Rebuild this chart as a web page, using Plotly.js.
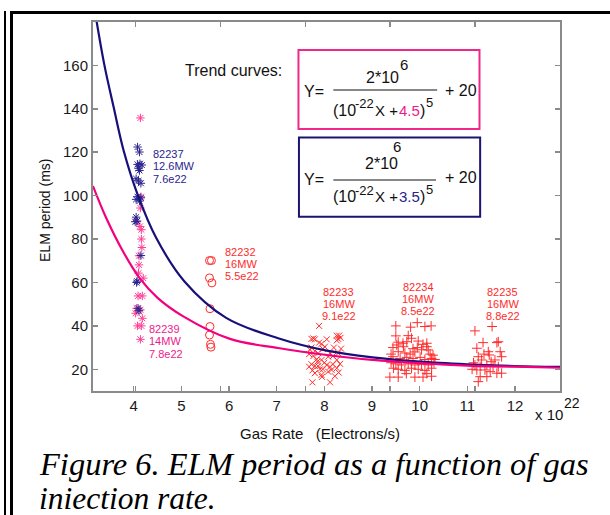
<!DOCTYPE html>
<html><head><meta charset="utf-8">
<script src="https://cdn.plot.ly/plotly-3.0.1.min.js"></script>
<style>
body{margin:0;background:#fff;width:610px;height:515px;overflow:hidden}
#chart{position:absolute;left:0;top:0;width:610px;height:515px}
.f{position:absolute;background:#000;z-index:5;pointer-events:none}
</style>
</head><body>
<div id="chart"></div>
<div class="f" style="left:4px;top:11px;width:2px;height:504px"></div>
<div class="f" style="left:10px;top:11px;width:3px;height:504px"></div>
<div class="f" style="left:10px;top:11px;width:600px;height:3px"></div>
<script>
// ---- axis ticks ----
const xTicks = [4,5,6,7,8,9,10,11,12];
const yTicks = [20,40,60,80,100,120,140,160];
const ghostTicks = [1,2,3,4,5];

// ---- trend curves ----
const curveBlueX = [3.20,3.38,3.58,3.79,4.08,4.47,5.06,5.94,7.03,8.05,9.01,10.0,11.0,12.0,12.945];
const curveBlueY = [183,160.6,140.6,120.6,100.6,80.6,60.6,43.7,34.3,28.6,25.5,23.5,22.3,21.5,21.1];
const curvePinkX = [3.145,3.42,3.77,4.12,4.50,5.03,6.02,7.03,8.05,9.01,10.0,11.0,12.0,12.945];
const curvePinkY = [104.4,89.8,74.5,62.1,52.9,44.5,34.0,29.8,26.6,24.3,22.8,21.7,21.2,20.7];

// ---- shot 82237 (blue asterisks) ----
const s82237X = [4.08,4.12,4.08,4.13,4.17,4.10,4.12,4.05,4.10,4.15,4.08,4.05,4.15,4.12,4.05,4.07,4.03,4.15,4.07,4.06,4.09,4.11];
const s82237Y = [122.4,120.1,114.4,114.7,114.1,112.6,111.6,107.8,106.8,105.7,99.5,98.3,99.0,97.5,90.1,88.3,88.0,72.4,60.6,60.0,48.1,47.0];
// ---- shot 82239 (pink asterisks) ----
const s82239X = [4.14,4.15,4.14,4.06,4.13,4.16,4.16,4.17,4.11,4.11,4.10,4.20,4.09,4.18,4.06,4.14,4.04,4.18,4.08,4.16,4.14];
const s82239Y = [135.8,99.5,94.3,88.1,85.8,84.3,80.0,76.1,72.3,68.1,64.3,62.0,53.8,53.8,48.1,47.4,45.8,43.5,40.0,40.0,33.8];
// ---- shot 82232 (circles) ----
const s82232X = [5.59,5.63,5.59,5.64,5.60,5.60,5.59,5.61,5.62];
const s82232Y = [70.1,70.1,62.1,59.8,47.9,39.7,35.8,31.5,30.2];
// ---- shot 82233 (x) ----
const s82233X = [7.89,7.73,7.77,7.80,8.05,8.26,8.31,8.29,8.34,8.26,7.89,7.94,8.01,7.97,7.73,7.80,7.87,7.77,7.84,7.94,8.08,8.12,8.18,8.29,8.26,7.70,8.20,8.35,7.68,7.73,7.80,7.87,7.91,7.97,8.05,8.12,8.18,8.26,7.80,7.94,8.08,8.15,7.68,8.33,8.30,7.75,8.00,7.85,7.75,8.12,7.95,8.22];
const s82233Y = [40.0,34.0,34.2,33.8,33.8,35.5,35.5,34.0,34.5,33.3,32.3,31.7,30.4,29.4,30.0,28.4,27.4,26.1,24.6,24.3,25.8,27.4,26.1,27.4,24.3,29.0,30.0,29.5,27.0,22.3,21.5,21.5,20.0,20.0,22.0,21.2,22.3,20.5,18.2,17.4,18.9,19.7,21.2,22.5,18.5,19.5,23.0,23.5,14.0,14.0,16.5,16.8];
// ---- shot 82234 (+) ----
const s82234X = [9.50,9.81,9.95,10.11,10.24,9.50,9.76,9.83,9.55,9.65,9.73,9.97,10.07,10.15,9.44,9.52,9.66,9.86,10.15,10.18,10.04,9.95,9.55,9.69,9.80,9.90,10.22,10.28,9.40,9.44,9.59,9.73,9.86,10.01,10.11,10.25,10.32,9.40,9.50,9.62,9.76,9.90,10.04,10.18,10.30,9.45,9.55,9.69,9.83,9.97,10.11,10.25,9.375,9.55,9.90,10.07,10.25,9.72,10.15];
const s82234Y = [40.0,39.4,41.5,39.7,40.0,35.4,35.5,34.3,32.5,32.0,32.7,33.0,31.5,32.0,30.0,31.2,30.4,29.5,30.4,28.9,29.0,30.0,28.1,27.5,27.0,28.0,27.0,26.5,27.0,25.8,25.0,25.5,25.0,25.5,24.5,25.0,24.5,23.0,22.5,22.0,22.5,22.0,22.3,22.0,23.0,20.5,20.0,19.5,20.5,20.0,19.5,20.5,16.4,16.4,16.4,16.4,16.8,18.0,18.0];
// ---- shot 82235 (+) ----
const s82235X = [11.16,11.52,11.33,11.62,11.65,11.20,11.44,11.46,11.69,11.23,11.30,11.58,11.72,11.16,11.27,11.41,11.54,11.65,11.20,11.37,11.48,11.62,11.72,11.27,11.41,11.23,11.13,11.35,11.50,11.10];
const s82235Y = [37.7,39.7,32.3,32.3,32.7,29.7,28.1,26.6,28.1,25.8,24.3,24.3,25.8,22.0,21.2,22.0,21.2,21.2,19.7,19.7,18.9,18.2,18.2,16.6,16.6,14.3,23.0,27.0,23.5,20.0];

// ---- text ----
const lab82237 = ['82237','12.6MW','7.6e22'];
const lab82239 = ['82239','14MW','7.8e22'];
const lab82232 = ['82232','16MW','5.5e22'];
const lab82233 = ['82233','16MW','9.1e22'];
const lab82234 = ['82234','16MW','8.5e22'];
const lab82235 = ['82235','16MW','8.8e22'];
const captionLines = ['Figure 6. ELM period as a function of gas', 'iniection rate.'];

const RED = '#ff2b2b', NAVY = '#2a238f', MAG = '#ee1a8c';
const BLUE_LINE = '#17107a', PINK_LINE = '#f2007e';
const SANS = 'Liberation Sans, Arial, sans-serif';

function mk(x, y, symbol, color, size){
  return {x:x, y:y, type:'scatter', mode:'markers', xaxis:'x', yaxis:'y', hoverinfo:'skip',
    marker:{symbol:symbol, size:size, color:color, line:{color:color, width:1}}};
}
const traces = [
  mk(s82239X, s82239Y, 'asterisk-open', '#ff3d96', 7),
  mk(s82237X, s82237Y, 'asterisk-open', NAVY, 7),
  mk(s82232X, s82232Y, 'circle-open', RED, 8),
  mk(s82233X, s82233Y, 'x-thin-open', RED, 6),
  mk(s82234X, s82234Y, 'cross-thin-open', RED, 7),
  mk(s82235X, s82235Y, 'cross-thin-open', RED, 7),
  {x:curveBlueX, y:curveBlueY, type:'scatter', mode:'lines', line:{color:BLUE_LINE, width:2.2, shape:'spline'}, hoverinfo:'skip'},
  {x:curvePinkX, y:curvePinkY, type:'scatter', mode:'lines', line:{color:PINK_LINE, width:2.2, shape:'spline'}, hoverinfo:'skip'},
  {x:[1], y:[-100], xaxis:'x2', yaxis:'y', type:'scatter', mode:'markers', marker:{opacity:0}, hoverinfo:'skip'}
];

const ann = [];
function labelLines(lines, x, y, color, xanchor, step){
  lines.forEach((t,i)=>ann.push({text:t, x:x, y:y, xref:'x', yref:'y', xanchor:xanchor, yanchor:'middle',
    yshift:-i*step, showarrow:false, font:{family:SANS, size:11, color:color}}));
}
labelLines(lab82237, 4.357, 119.4, NAVY, 'left', 12.7);
labelLines(lab82239, 4.273, 38.6, MAG, 'left', 12.5);
labelLines(lab82232, 5.875, 74.0, RED, 'left', 11.8);
labelLines(lab82233, 8.305, 55.8, RED, 'center', 12.0);
labelLines(lab82234, 9.97, 58.1, RED, 'center', 12.2);
labelLines(lab82235, 11.74, 55.8, RED, 'center', 12.2);

function pt(text, x, y, size, color, xanchor, extra){
  const a = {text:text, x:x, y:y, xref:'paper', yref:'paper', xanchor:xanchor||'center', yanchor:'middle',
    showarrow:false, font:{family:SANS, size:size, color:color||'#111'}};
  return Object.assign(a, extra||{});
}
// trend curve equations
ann.push(pt('Trend curves:', 0.2998, 0.8699, 16));
function equation(yMain, yNum, ySupA, ySupB, yDen, x6, y6, num, colorB){
  ann.push(pt('Y=', 0.4725, yMain, 16));
  ann.push(pt('2*10', num, yNum, 16));
  ann.push(pt('6', x6, y6, 15));
  ann.push(pt('(10', 0.5090, yDen, 16, '#111', 'left'));
  ann.push(pt('-22', 0.5578, ySupA, 13, '#111', 'left'));
  ann.push(pt('X +', 0.6002, yDen, 15, '#111', 'left'));
  ann.push(pt(colorB[0], 0.6510, yDen, 15, colorB[1], 'left'));
  ann.push(pt(')', 0.6953, yDen, 16, '#111', 'left'));
  ann.push(pt('5', 0.7088, ySupB, 13, '#111', 'left'));
  ann.push(pt('+ 20', 0.7880, yMain + 0.004, 16));
}
const offsetPink = ['4.5', MAG];
const offsetBlue = ['3.5', NAVY];
equation(0.8111, 0.8501, 0.7778, 0.7818, 0.7596, 0.6660, 0.8835, 0.6206, offsetPink);
equation(0.5745, 0.6152, 0.5447, 0.5474, 0.5266, 0.6503, 0.6621, 0.6182, offsetBlue);

// axis titles & multiplier
ann.push(pt('ELM period (ms)', -0.1028, 0.4905, 14, '#111', 'center', {textangle:-90}));
ann.push(pt('Gas Rate\u00a0\u00a0\u00a0(Electrons/s)', 0.4854, -0.1152, 15));
ann.push(pt('x 10', 0.9422, -0.065, 15, '#111', 'left'));
ann.push(pt('22', 1.0043, -0.0325, 14, '#111', 'left'));
// caption
const SERIF = 'Liberation Serif, Times New Roman, serif';
ann.push(pt('<i>' + captionLines[0] + '</i>', -0.1199, -0.1965, 32.5, '#000', 'left', {font:{family:SERIF, size:32.5, color:'#000'}}));
ann.push(pt('<i>' + captionLines[1] + '</i>', -0.1199, -0.2900, 31.5, '#000', 'left', {font:{family:SERIF, size:31.5, color:'#000'}}));

const shapes = [
  {type:'rect', xref:'paper', yref:'paper', x0:0.440, x1:0.8276, y0:0.710, y1:0.924, line:{color:'#f0288c', width:2}},
  {type:'rect', xref:'paper', yref:'paper', x0:0.441, x1:0.829, y0:0.472, y1:0.687, line:{color:'#1c1470', width:2}},
  {type:'line', xref:'paper', yref:'paper', x0:0.5146, x1:0.7370, y0:0.8157, y1:0.8157, line:{color:'#111', width:1.2}},
  {type:'line', xref:'paper', yref:'paper', x0:0.5146, x1:0.7345, y0:0.5718, y1:0.5718, line:{color:'#111', width:1.2}}
];

const layout = {
  width:610, height:515,
  margin:{l:93, r:50, t:22, b:124, pad:0},
  paper_bgcolor:'#fff', plot_bgcolor:'#fff',
  showlegend:false,
  xaxis:{range:[3.145,12.945], tickmode:'array', tickvals:xTicks, ticktext:xTicks.map(String),
    ticks:'inside', ticklen:5, tickwidth:1.5, tickcolor:'#8a8a8a',
    showline:true, linecolor:'#8a8a8a', linewidth:2, mirror:true,
    showgrid:false, zeroline:false, tickfont:{family:SANS, size:15, color:'#1a1a1a'}},
  xaxis2:{overlaying:'x', anchor:'y', side:'bottom', range:[0.5,6], tickmode:'array', tickvals:ghostTicks,
    ticks:'inside', ticklen:5, tickwidth:1.5, tickcolor:'#8a8a8a', mirror:'ticks',
    showticklabels:false, showline:false, showgrid:false, zeroline:false},
  yaxis:{range:[10,180], tickmode:'array', tickvals:yTicks, ticktext:yTicks.map(String),
    ticks:'inside', ticklen:5, tickwidth:1.5, tickcolor:'#8a8a8a',
    showline:true, linecolor:'#8a8a8a', linewidth:2, mirror:'ticks',
    showgrid:false, zeroline:false, tickfont:{family:SANS, size:15, color:'#1a1a1a'}},
  annotations:ann,
  shapes:shapes
};
Plotly.newPlot('chart', traces, layout, {staticPlot:true, displayModeBar:false});
</script>
</body></html>
